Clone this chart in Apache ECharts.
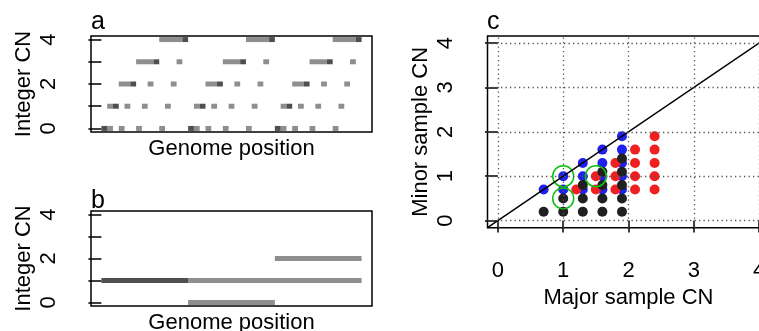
<!DOCTYPE html>
<html>
<head>
<meta charset="utf-8">
<script src="https://cdn.jsdelivr.net/npm/echarts@6/dist/echarts.min.js"></script>
<style>
  html, body { margin: 0; padding: 0; background: #fff; }
  #chart { width: 759px; height: 331px; }
</style>
</head>
<body>
<div id="chart"></div>
<script>
// panel a: segments [start, end, integer CN] in genome-bin units
const aLight = [
  [1, 2, 0], [3, 4, 0], [6, 7, 0], [10, 11, 0],
  [16, 17, 0], [18, 19, 0], [21, 22, 0], [25, 26, 0],
  [31, 32, 0], [33, 34, 0], [36, 37, 0], [40, 41, 0],
  [1, 2, 1], [4, 5, 1], [7, 8, 1], [11, 12, 1],
  [16, 17, 1], [19, 20, 1], [22, 23, 1], [26, 27, 1],
  [31, 32, 1], [34, 35, 1], [37, 38, 1], [41, 42, 1],
  [3, 5, 2], [8, 9, 2], [12, 13, 2],
  [18, 20, 2], [23, 24, 2], [27, 28, 2],
  [33, 35, 2], [38, 39, 2], [42, 43, 2],
  [6, 9, 3], [13, 14, 3], [21, 24, 3], [28, 29, 3], [36, 39, 3], [43, 44, 3],
  [10, 14, 4], [25, 29, 4], [40, 44, 4]
];
const aDark = [
  [0, 1, 0], [15, 16, 0], [30, 31, 0],
  [2, 3, 1], [17, 18, 1], [32, 33, 1],
  [5, 6, 2], [20, 21, 2], [35, 36, 2],
  [9, 10, 3], [24, 25, 3], [39, 40, 3],
  [14, 15, 4], [29, 30, 4], [44, 45, 4]
];

// panel b
const bLight = [[15, 45, 1], [30, 45, 2], [15, 30, 0]];
const bDark = [[0, 15, 1]];

// panel c: major / minor sample CN
const blueX = [0.7, 1.0, 1.0, 1.3, 1.3, 1.3, 1.6, 1.6, 1.6, 1.6, 1.9, 1.9, 1.9, 1.9, 1.9];
const blueY = [0.7, 0.7, 1.0, 0.7, 1.0, 1.3, 0.7, 1.0, 1.3, 1.6, 0.7, 1.0, 1.3, 1.6, 1.9];
const redX = [1.2, 1.5, 1.5, 1.8, 1.8, 1.8, 2.1, 2.1, 2.1, 2.1, 2.4, 2.4, 2.4, 2.4, 2.4];
const redY = [0.7, 0.7, 1.0, 0.7, 1.0, 1.3, 0.7, 1.0, 1.3, 1.6, 0.7, 1.0, 1.3, 1.6, 1.9];
const blackX = [0.7, 1.0, 1.0, 1.3, 1.3, 1.3, 1.6, 1.6, 1.6, 1.6, 1.9, 1.9, 1.9, 1.9, 1.9];
const blackY = [0.2, 0.2, 0.5, 0.2, 0.5, 0.8, 0.2, 0.5, 0.8, 1.1, 0.2, 0.5, 0.8, 1.1, 1.4];
const greenX = [1.0, 1.0, 1.5];
const greenY = [1.0, 0.5, 1.0];
const diagLine = [-0.16, 4.16];

const cnTicks = [0, 1, 2, 3, 4];
const cnLabelsAB = [0, 2, 4];
const cGridLines = [0, 1, 2, 3, 4];

const FONT = "'Liberation Sans', Arial, sans-serif";
const LIGHT = "#8e8e8e";
const DARK = "#4f4f4f";

const chart = echarts.init(document.getElementById("chart"));

const zip = (xs, ys) => xs.map((x, i) => [x, ys[i]]);
const segs = (light, dark) =>
  light.map((s) => [s[0], s[1], s[2], 0]).concat(dark.map((s) => [s[0], s[1], s[2], 1]));

function renderSeg(params, api) {
  const s = api.coord([api.value(0), api.value(2)]);
  const e = api.coord([api.value(1), api.value(2)]);
  const h = 5;
  return {
    type: "rect",
    shape: { x: s[0], y: s[1] - h / 2, width: e[0] - s[0], height: h },
    style: { fill: api.value(3) ? DARK : LIGHT },
  };
}

const gridBox = {
  show: true,
  borderColor: "#000",
  borderWidth: 1.5,
  backgroundColor: "transparent",
  containLabel: false,
  outerBoundsMode: "none",
};
const txt = { fontSize: 22, color: "#000", fontFamily: FONT };
const panelTitle = { ...txt, fontSize: 25, fontWeight: "normal" };

function cnYAxis(gridIndex, name, labels) {
  return {
    gridIndex,
    type: "value",
    min: -0.16,
    max: 4.16,
    name,
    nameLocation: "middle",
    nameRotate: 90,
    nameGap: 56,
    nameTextStyle: txt,
    axisLine: { show: false },
    axisTick: { show: true, length: 13, lineStyle: { color: "#000", width: 1.5 }, customValues: cnTicks },
    axisLabel: { show: true, rotate: 90, margin: 31, ...txt, customValues: labels },
    splitLine: { show: false },
  };
}

function genomeXAxis(gridIndex) {
  return {
    gridIndex,
    type: "value",
    min: -1.8,
    max: 46.8,
    name: "Genome position",
    nameLocation: "middle",
    nameGap: 6,
    nameTextStyle: txt,
    axisLine: { show: false },
    axisTick: { show: false },
    axisLabel: { show: false },
    splitLine: { show: false },
  };
}

const option = {
  animation: false,
  title: [
    { text: "a", left: 91, top: 10, padding: 0, textStyle: panelTitle },
    { text: "b", left: 91, top: 189, padding: 0, textStyle: panelTitle },
    { text: "c", left: 487, top: 10, padding: 0, textStyle: panelTitle },
  ],
  grid: [
    { left: 91, top: 36, width: 281, height: 96, ...gridBox },
    { left: 91, top: 211, width: 281, height: 95, ...gridBox },
    { left: 487.5, top: 36, width: 282, height: 191.7, ...gridBox },
  ],
  xAxis: [
    genomeXAxis(0),
    genomeXAxis(1),
    {
      gridIndex: 2,
      type: "value",
      min: -0.16,
      max: 4.16,
      name: "Major sample CN",
      nameLocation: "middle",
      nameGap: 58,
      nameTextStyle: txt,
      axisLine: { show: false },
      axisTick: { show: true, length: 12, lineStyle: { color: "#000", width: 1.5 }, customValues: cnTicks },
      axisLabel: { show: true, margin: 32, ...txt, customValues: cnTicks },
      splitLine: { show: false },
    },
  ],
  yAxis: [
    cnYAxis(0, "Integer CN", cnLabelsAB),
    cnYAxis(1, "Integer CN", cnLabelsAB),
    cnYAxis(2, "Minor sample CN", cnTicks),
  ],
  series: [
    {
      type: "custom",
      xAxisIndex: 0,
      yAxisIndex: 0,
      renderItem: renderSeg,
      encode: { x: [0, 1], y: 2 },
      data: segs(aLight, aDark),
    },
    {
      type: "custom",
      xAxisIndex: 1,
      yAxisIndex: 1,
      renderItem: renderSeg,
      encode: { x: [0, 1], y: 2 },
      data: segs(bLight, bDark),
    },
    {
      type: "line",
      xAxisIndex: 2,
      yAxisIndex: 2,
      data: zip(diagLine, diagLine),
      symbol: "none",
      clip: true,
      lineStyle: { color: "#000", width: 1.5 },
      markLine: {
        silent: true,
        symbol: ["none", "none"],
        label: { show: false },
        lineStyle: { color: "#555", width: 1.3, type: [1.3, 3.2] },
        data: cGridLines.map((v) => ({ xAxis: v })).concat(cGridLines.map((v) => ({ yAxis: v }))),
      },
    },
    {
      type: "scatter",
      xAxisIndex: 2,
      yAxisIndex: 2,
      symbolSize: 10,
      itemStyle: { color: "#2020ee", opacity: 1 },
      data: zip(blueX, blueY),
    },
    {
      type: "scatter",
      xAxisIndex: 2,
      yAxisIndex: 2,
      symbolSize: 10,
      itemStyle: { color: "#ee2020", opacity: 1 },
      data: zip(redX, redY),
    },
    {
      type: "scatter",
      xAxisIndex: 2,
      yAxisIndex: 2,
      symbolSize: 10,
      itemStyle: { color: "#202020", opacity: 1 },
      data: zip(blackX, blackY),
    },
    {
      type: "scatter",
      xAxisIndex: 2,
      yAxisIndex: 2,
      symbolSize: 21,
      itemStyle: { color: "none", borderColor: "#10c010", borderWidth: 1.5, opacity: 1 },
      data: zip(greenX, greenY),
    },
  ],
};

chart.setOption(option);
</script>
</body>
</html>
